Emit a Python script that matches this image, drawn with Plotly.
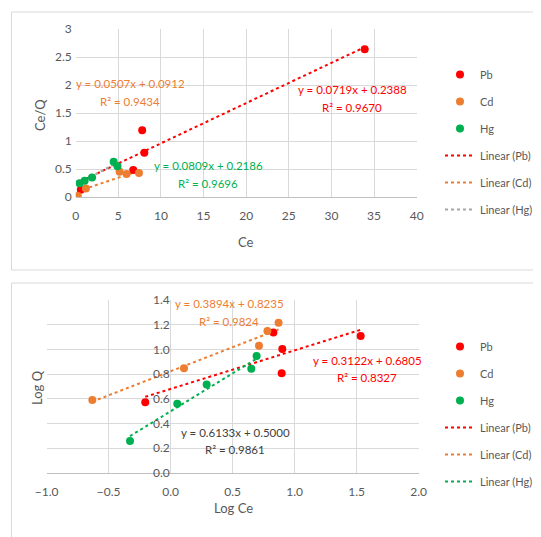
import plotly.graph_objects as go

# page body adds an 8px margin, so the figure is sized to fit the 541x537 window
OFF = 8
W, H = 541 - OFF, 537 - OFF

# ---------- Data: top chart (Ce vs Ce/Q) ----------
pb_ce = [0.6, 6.75, 7.8, 8.05, 33.9]
pb_ceq = [0.13, 0.48, 1.19, 0.79, 2.64]
cd_ce = [0.25, 1.2, 5.15, 5.97, 7.42]
cd_ceq = [0.02, 0.15, 0.45, 0.41, 0.43]
hg_ce = [0.45, 1.05, 1.92, 4.45, 4.9]
hg_ceq = [0.245, 0.29, 0.35, 0.63, 0.55]

# trendline coefficients (slope, intercept) as shown on chart
top_fit = {"Pb": (0.0719, 0.2388), "Cd": (0.0507, 0.0912), "Hg": (0.0809, 0.2186)}
top_eq = {"Pb": ("y = 0.0719x + 0.2388", "R² = 0.9670"),
          "Cd": ("y = 0.0507x + 0.0912", "R² = 0.9434"),
          "Hg": ("y = 0.0809x + 0.2186", "R² = 0.9696")}

# ---------- Data: bottom chart (Log Ce vs Log Q) ----------
pb_logce = [-0.205, 0.828, 0.895, 0.9, 1.532]
pb_logq = [0.572, 1.138, 0.807, 1.003, 1.108]
cd_logce = [-0.632, 0.107, 0.712, 0.78, 0.87]
cd_logq = [0.59, 0.847, 1.03, 1.149, 1.216]
hg_logce = [-0.328, 0.053, 0.29, 0.65, 0.693]
hg_logq = [0.259, 0.561, 0.717, 0.844, 0.947]

bot_fit = {"Pb": (0.3122, 0.6805), "Cd": (0.3894, 0.8235), "Hg": (0.6133, 0.5000)}
bot_eq = {"Pb": ("y = 0.3122x + 0.6805", "R² = 0.8327"),
          "Cd": ("y = 0.3894x + 0.8235", "R² = 0.9824"),
          "Hg": ("y = 0.6133x + 0.5000", "R² = 0.9861")}

RED, ORANGE, GREEN, GRAY = "#ff0000", "#ed7d31", "#00b050", "#a5a5a5"
TXT = "#595959"
GRID = "#d9d9d9"
FONT = "Lato"


def px(x):
    return (x - OFF) / W


def py(y):
    return 1 - (y - OFF) / H


fig = go.Figure()

series_top = [("Pb", pb_ce, pb_ceq, RED, RED), ("Cd", cd_ce, cd_ceq, ORANGE, ORANGE),
              ("Hg", hg_ce, hg_ceq, GREEN, GRAY)]
series_bot = [("Pb", pb_logce, pb_logq, RED, RED), ("Cd", cd_logce, cd_logq, ORANGE, ORANGE),
              ("Hg", hg_logce, hg_logq, GREEN, GREEN)]

for panel, series, fits, xa, ya, leg in [
        ("top", series_top, top_fit, "x", "y", "legend"),
        ("bot", series_bot, bot_fit, "x2", "y2", "legend2")]:
    lines = []
    for name, xs, ys, mc, lc in series:
        m, b = fits[name]
        x0, x1 = min(xs), max(xs)
        lines.append(go.Scatter(x=[x0, x1], y=[m * x0 + b, m * x1 + b], mode="lines",
                                line=dict(color=lc, width=2, dash="dot"),
                                name=f"Linear ({name})", xaxis=xa, yaxis=ya, legend=leg,
                                legendgroup=f"{panel}L{name}", legendrank=10 + len(lines)))
    for tr in lines:
        fig.add_trace(tr)
    for k, (name, xs, ys, mc, lc) in enumerate(series):
        fig.add_trace(go.Scatter(x=xs, y=ys, mode="markers",
                                 marker=dict(color=mc, size=8),
                                 name=name, xaxis=xa, yaxis=ya, legend=leg,
                                 legendgroup=f"{panel}M{name}", legendrank=k + 1))

axis_font = dict(family=FONT, size=12, color=TXT)
common_x = dict(showgrid=True, gridcolor=GRID, zeroline=False, showline=True,
                linecolor="#bfbfbf", tickfont=axis_font, ticks="", automargin=False,
                ticklabelstandoff=8)
common_y = dict(showgrid=True, gridcolor=GRID, zeroline=False, showline=False,
                tickfont=axis_font, ticks="", automargin=False)

fig.update_layout(
    width=W, height=H,
    margin=dict(l=0, r=0, t=0, b=0, autoexpand=False),
    paper_bgcolor="white", plot_bgcolor="white",
    font=dict(family=FONT, size=12, color=TXT),
    xaxis=dict(domain=[px(75.7), px(416.7)], range=[0, 40], dtick=5, anchor="y", **common_x),
    yaxis=dict(domain=[py(197), py(29)], range=[0, 3], dtick=0.5, anchor="x",
               ticklabelstandoff=3, **common_y),
    xaxis2=dict(domain=[px(46.7), px(418.7)], range=[-1, 2], dtick=0.5, anchor="y2",
                tickformat=".1f", **common_x),
    yaxis2=dict(domain=[py(473), py(300)], range=[0, 1.4], dtick=0.2, anchor="free",
                position=px(170.7), tickformat=".1f", ticklabelstandoff=1, **common_y),
    legend=dict(x=px(440), y=py(60), xanchor="left", yanchor="top",
                traceorder="grouped", tracegroupgap=8,
                font=dict(family=FONT, size=11, color=TXT), bgcolor="rgba(0,0,0,0)"),
    legend2=dict(x=px(440), y=py(332), xanchor="left", yanchor="top",
                 traceorder="grouped", tracegroupgap=8,
                 font=dict(family=FONT, size=11, color=TXT), bgcolor="rgba(0,0,0,0)"),
    showlegend=True,
)

# chart frames
fig.add_shape(type="rect", xref="paper", yref="paper", x0=px(11.5), x1=px(545),
              y0=py(270), y1=py(12), line=dict(color=GRID, width=1))
fig.add_shape(type="rect", xref="paper", yref="paper", x0=px(11.5), x1=px(545),
              y0=py(545), y1=py(283), line=dict(color=GRID, width=1))

ann = []


def label(text, x, y, col=TXT, size=11, angle=0):
    ann.append(dict(text=text, x=px(x), y=py(y), xref="paper", yref="paper",
                    xanchor="center", yanchor="middle", textangle=angle,
                    showarrow=False, font=dict(family=FONT, size=size, color=col)))


label("Ce", 246, 242, size=13)
label("Ce/Q", 40, 115, size=13, angle=-90)
label("Log Ce", 233, 508, size=13)
label("Log Q", 37, 388, size=13, angle=-90)

eq_top_pos = {"Pb": (352, 89, 107, RED), "Cd": (130, 83, 101, ORANGE), "Hg": (208, 166, 183, GREEN)}
eq_bot_pos = {"Pb": (367, 360, 377, RED), "Cd": (229, 303, 321, ORANGE), "Hg": (235, 432, 449, "#404040")}
for eqs, pos in [(top_eq, eq_top_pos), (bot_eq, eq_bot_pos)]:
    for name, (l1, l2) in eqs.items():
        cx, y1, y2, col = pos[name]
        label(l1, cx, y1, col=col, size=11.5)
        label(l2, cx, y2, col=col, size=11.5)
fig.update_layout(annotations=ann)

fig.write_html("out.html")
